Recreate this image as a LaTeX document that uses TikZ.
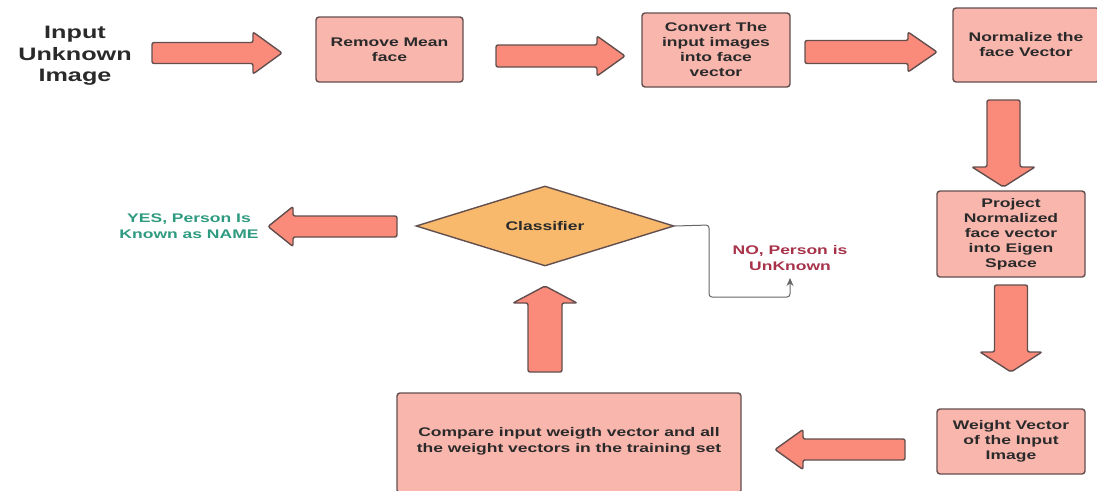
\documentclass[tikz,border=0pt]{standalone}
\usepackage{fontspec}
\setmainfont{Liberation Sans}[FakeStretch=1.4]
\usetikzlibrary{shapes.geometric,arrows.meta}
\definecolor{boxfill}{HTML}{F9B6AD}
\definecolor{boxline}{HTML}{634E4E}
\definecolor{arrfill}{HTML}{FA8B7B}
\definecolor{dfill}{HTML}{F8B96C}
\definecolor{txt}{HTML}{2A2A2A}
\definecolor{yescol}{HTML}{2E9A80}
\definecolor{nocol}{HTML}{A8324A}
\definecolor{linecol}{HTML}{666666}
\newcommand\blockarrow[6]{%
  \draw[barrow, shift={#1}, rotate=#2] (0,-#5) -- ({#3-#4},-#5) -- ({#3-#4},-#6) -- (#3,0) -- ({#3-#4},#6) -- ({#3-#4},#5) -- (0,#5) -- cycle;}
\begin{document}
\begin{tikzpicture}[x=1pt,y=-1pt,
  stepbox/.style={draw=boxline, fill=boxfill, line width=1.4pt, rounded corners=3pt,
    align=center, inner sep=0pt, text=txt,
    font=\bfseries\fontsize{12.5}{15}\selectfont},
  barrow/.style={draw=boxline, fill=arrfill, line width=1.4pt, rounded corners=2pt},
  decision/.style={diamond, draw=boxline, fill=dfill, line width=1.4pt, inner sep=0pt,
    aspect=3.2, minimum width=258pt, minimum height=80pt, text=txt,
    font=\bfseries\fontsize{12.5}{15}\selectfont},
  outtext/.style={align=center, font=\bfseries\fontsize{12.5}{16}\selectfont},
  thinline/.style={draw=linecol, line width=1pt, rounded corners=3pt}]
\useasboundingbox (0,0) rectangle (1097,490);

% texts and boxes
\node[align=center, text=txt, font=\bfseries\fontsize{18}{21.5}\selectfont] (input) at (75,56) {Input\\Unknown\\Image};
\node[stepbox, minimum width=147pt, minimum height=65pt] (mean) at (389.5,49.5) {Remove Mean\\face};
\node[stepbox, minimum width=148pt, minimum height=74pt] (conv) at (716,50) {Convert The\\input images\\into face\\vector};
\node[stepbox, minimum width=146pt, minimum height=74pt] (norm) at (1026,45) {Normalize the\\face Vector};
\node[stepbox, minimum width=148pt, minimum height=86pt] (proj) at (1011,234) {Project\\Normalized\\face vector\\into Eigen\\Space};
\node[stepbox, minimum width=148pt, minimum height=65pt] (weight) at (1011,441.5) {Weight Vector\\of the Input\\Image};
\node[stepbox, minimum width=344pt, minimum height=100pt, text height=0pt] (comp) at (569,443) {};
\node[align=center, text=txt, font=\bfseries\fontsize{12.5}{16}\selectfont] (comptext) at (569,441.5) {Compare input weigth vector and all\\the weight vectors in the training set};
\node[decision] (cls) at (545,226) {Classifier};
\node[outtext, text=yescol] (yes) at (189,226.5) {YES, Person Is\\Known as NAME};
\node[outtext, text=nocol] (no) at (790,258) {NO, Person is\\UnKnown};

% block arrows
\blockarrow{(152,53)}{0}{130}{29}{10.5}{21}
\blockarrow{(496,56)}{0}{129}{28}{11}{20}
\blockarrow{(805,52)}{0}{132}{29}{11.5}{20}
\blockarrow{(1003.5,100)}{-90}{87}{20}{16.5}{31.5}
\blockarrow{(1011,285)}{-90}{87}{20}{16.5}{31}
\blockarrow{(905,449.5)}{180}{130}{28}{10.5}{20}
\blockarrow{(545,372)}{90}{86}{17}{17}{32}
\blockarrow{(397,226.5)}{180}{129}{25}{10.5}{20}

% NO connector
\coordinate (noend) at (790,278);
\draw[thinline, -{Stealth[length=8pt,width=7pt]}] (cls.east) -- (709,225) -- (709,297) -- (790,297) -- (noend);
\end{tikzpicture}
\end{document}
